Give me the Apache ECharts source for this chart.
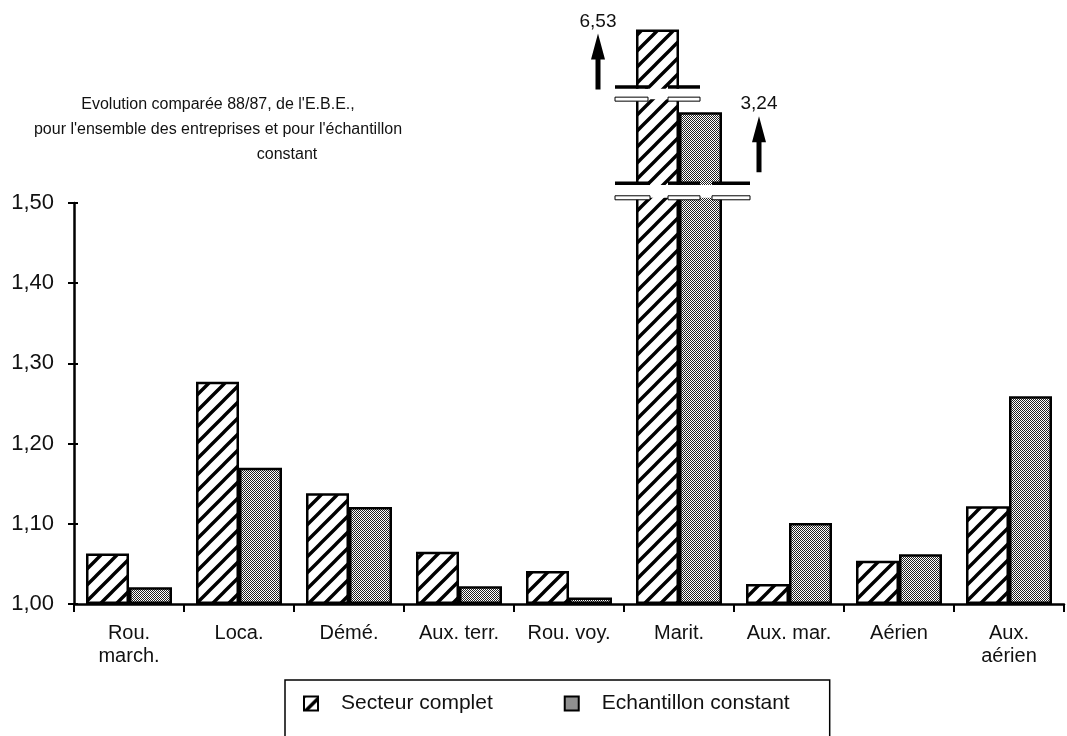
<!DOCTYPE html>
<html>
<head>
<meta charset="utf-8">
<title>Evolution comparée 88/87 de l'E.B.E.</title>
<script src="https://cdn.jsdelivr.net/npm/echarts@6/dist/echarts.min.js"></script>
<style>
  html, body { margin: 0; padding: 0; background: #fff; }
  #chart { width: 1067px; height: 736px; }
</style>
</head>
<body>
<div id="chart"></div>
<script>
  // données
  var categories = ['Rou.\nmarch.', 'Loca.', 'Démé.', 'Aux. terr.', 'Rou. voy.', 'Marit.', 'Aux. mar.', 'Aérien', 'Aux.\naérien'];
  var secteurComplet = [1.063, 1.277, 1.138, 1.065, 1.041, 6.53, 1.025, 1.054, 1.122];
  var echantillonConstant = [1.021, 1.170, 1.121, 1.022, 1.008, 3.24, 1.101, 1.062, 1.259];
  var yTicks = [1.00, 1.10, 1.20, 1.30, 1.40, 1.50];
  // coupures dessinées sur les barres "Marit." : [catégorie, bas, haut, nb de barres]
  var breaks = [[5, 1.627, 1.645, 1], [5, 1.504, 1.525, 2]];

  var FONT = '"Liberation Sans", Arial, Helvetica, sans-serif';
  var barW = 43;
  var axisBase = yTicks[0];
  var axisTop = yTicks[yTicks.length - 1];

  // au-dessus de 1,50 l'échelle est coupée : hauteur comprimée
  function shown(v) {
    return v <= axisTop ? v : axisTop + 0.147 * Math.log(v / axisTop);
  }
  function fr(v) {
    return String(v).replace('.', ',');
  }

  // motifs : hachures et trame grise
  function hatch() {
    var c = document.createElement('canvas');
    c.width = 16; c.height = 16;
    var ctx = c.getContext('2d');
    ctx.fillStyle = '#fff';
    ctx.fillRect(0, 0, 16, 16);
    ctx.strokeStyle = '#000';
    ctx.lineWidth = 3.4;
    ctx.beginPath();
    ctx.moveTo(-2, 18); ctx.lineTo(18, -2);
    ctx.moveTo(-2, 2); ctx.lineTo(2, -2);
    ctx.moveTo(14, 18); ctx.lineTo(18, 14);
    ctx.stroke();
    return c;
  }
  function dots() {
    var c = document.createElement('canvas');
    c.width = 4; c.height = 4;
    var ctx = c.getContext('2d');
    ctx.fillStyle = '#fff';
    ctx.fillRect(0, 0, 4, 4);
    ctx.fillStyle = '#222';
    for (var y = 0; y < 4; y++) {
      for (var x = 0; x < 4; x++) {
        if ((x + y) % 2 === 0) ctx.fillRect(x, y, 1, 1);
      }
    }
    return c;
  }

  var arrowData = [];
  secteurComplet.forEach(function (v, i) { if (v > axisTop) arrowData.push([i, 0, v]); });
  echantillonConstant.forEach(function (v, i) { if (v > axisTop) arrowData.push([i, 1, v]); });

  function renderBreak(params, api) {
    var i = api.value(0);
    var lo = api.coord([i, api.value(1)]);
    var hi = api.coord([i, api.value(2)]);
    var n = api.value(3);
    var cx = lo[0];
    var segs = n === 1 ? [[-64, -31], [-11, 21]] : [[-64, -29], [-11, 21], [33, 71]];
    var right = n === 1 ? cx + 2 : cx + barW + 2;
    var children = [{
      type: 'rect',
      shape: { x: cx - barW - 2, y: hi[1] + 2, width: right - (cx - barW - 2), height: lo[1] - hi[1] - 4 },
      style: { fill: '#fff' }
    }];
    segs.forEach(function (s) {
      children.push({
        type: 'rect',
        shape: { x: cx + s[0], y: hi[1] - 1.5, width: s[1] - s[0], height: 3.5 },
        style: { fill: '#000' }
      });
      children.push({
        type: 'rect',
        shape: { x: cx + s[0], y: lo[1] - 4, width: s[1] - s[0], height: 4 },
        style: { fill: '#fff', stroke: '#000', lineWidth: 1 }
      });
    });
    return { type: 'group', children: children };
  }

  function renderArrow(params, api) {
    var i = api.value(0), side = api.value(1), real = api.value(2);
    var top = api.coord([i, shown(real)]);
    var x = side === 0 ? top[0] - barW - 38 : top[0] + barW + 37;
    var y = top[1];
    return {
      type: 'group',
      children: [{
        type: 'polygon',
        shape: { points: [[x, y + 4], [x + 7, y + 30], [x + 2.5, y + 30], [x + 2.5, y + 60], [x - 2.5, y + 60], [x - 2.5, y + 30], [x - 7, y + 30]] },
        style: { fill: '#000' }
      }, {
        type: 'text',
        x: x,
        y: y - 8,
        style: { text: fr(real), align: 'center', verticalAlign: 'middle', font: '19px ' + FONT, fill: '#111' }
      }]
    };
  }

  // barre invisible de 0 à 1,00 pour que les barres partent de l'axe
  function baseBar(stack) {
    return {
      type: 'bar',
      stack: stack,
      clip: false,
      silent: true,
      barWidth: barW,
      barGap: 0,
      itemStyle: { color: 'transparent' },
      data: categories.map(function () { return axisBase; })
    };
  }

  var myChart = echarts.init(document.getElementById('chart'));
  myChart.setOption({
    backgroundColor: '#fff',
    animation: false,
    textStyle: { fontFamily: FONT, color: '#111' },
    title: [{
      text: "Evolution comparée 88/87, de l'E.B.E.,\npour l'ensemble des entreprises et pour l'échantillon",
      left: 213,
      top: 87,
      textAlign: 'center',
      textStyle: { fontSize: 16, fontWeight: 'normal', color: '#111', lineHeight: 25, fontFamily: FONT }
    }, {
      text: 'constant',
      left: 282,
      top: 142,
      textAlign: 'center',
      textStyle: { fontSize: 16, fontWeight: 'normal', color: '#111', fontFamily: FONT }
    }],
    legend: {
      data: ['Secteur complet', 'Echantillon constant'],
      icon: 'rect',
      left: 285,
      top: 680,
      padding: [13, 40, 40, 18],
      itemGap: 71,
      itemWidth: 14,
      itemHeight: 14,
      borderColor: '#000',
      borderWidth: 1.5,
      borderRadius: 0,
      textStyle: { fontSize: 21, color: '#111', fontFamily: FONT, padding: [0, 0, 0, 18] }
    },
    grid: { left: 74, right: 3, top: 203, bottom: 132 },
    xAxis: {
      type: 'category',
      data: categories,
      axisLine: { lineStyle: { color: '#000', width: 2.5 } },
      axisTick: { show: true, length: 8, lineStyle: { color: '#000', width: 2 } },
      axisLabel: { interval: 0, fontSize: 20, lineHeight: 23, margin: 18, color: '#111', fontFamily: FONT }
    },
    yAxis: [{
      type: 'value',
      min: axisBase,
      max: axisTop,
      interval: 0.1,
      axisLine: { show: true, lineStyle: { color: '#000', width: 2.5 } },
      axisTick: { show: true, length: 6, lineStyle: { color: '#000', width: 2 } },
      splitLine: { show: false },
      axisLabel: {
        fontSize: 22, margin: 20, color: '#111', fontFamily: FONT,
        formatter: function (v) { return v.toFixed(2).replace('.', ','); }
      }
    }, {
      // petits traits de graduation côté intérieur
      type: 'value',
      position: 'left',
      min: axisBase,
      max: axisTop,
      interval: 0.1,
      axisLine: { show: false },
      axisTick: { show: true, inside: true, length: 4, lineStyle: { color: '#000', width: 2 } },
      splitLine: { show: false },
      axisLabel: { show: false }
    }],
    series: [baseBar('sc'), {
      name: 'Secteur complet',
      type: 'bar',
      stack: 'sc',
      clip: false,
      barWidth: barW,
      barGap: 0,
      itemStyle: { color: { image: hatch(), repeat: 'repeat' }, borderColor: '#000', borderWidth: 2.5 },
      data: secteurComplet.map(function (v) { return shown(v) - axisBase; })
    }, baseBar('ec'), {
      name: 'Echantillon constant',
      type: 'bar',
      stack: 'ec',
      clip: false,
      barWidth: barW,
      barGap: 0,
      itemStyle: { color: { image: dots(), repeat: 'repeat' }, borderColor: '#000', borderWidth: 2.5 },
      data: echantillonConstant.map(function (v) { return shown(v) - axisBase; })
    }, {
      type: 'custom',
      clip: false,
      z: 5,
      renderItem: renderBreak,
      data: breaks
    }, {
      type: 'custom',
      clip: false,
      z: 5,
      renderItem: renderArrow,
      data: arrowData
    }]
  });
</script>
</body>
</html>
